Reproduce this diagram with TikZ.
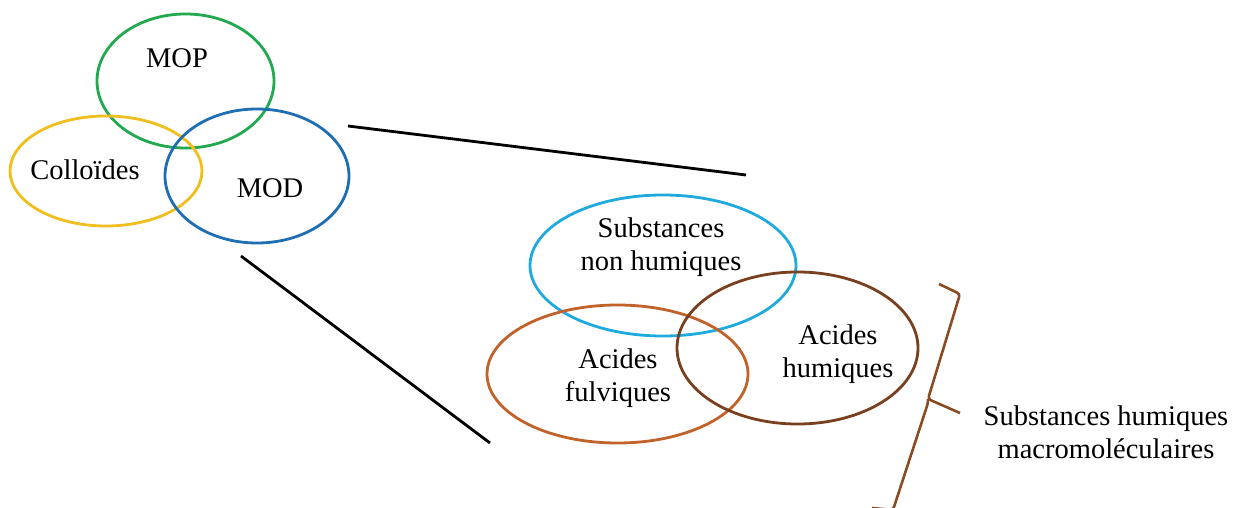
\documentclass[tikz,border=0pt]{standalone}
\usepackage{fontspec}
\setmainfont{Liberation Serif}
\usetikzlibrary{shapes.geometric}
\definecolor{cgreen}{RGB}{34,168,78}
\definecolor{cyellow}{RGB}{240,190,30}
\definecolor{cblue}{RGB}{30,110,180}
\definecolor{ccyan}{RGB}{30,170,220}
\definecolor{corange}{RGB}{192,98,42}
\definecolor{cbrown}{RGB}{120,64,30}
\definecolor{cbrace}{RGB}{138,74,34}
\begin{document}
\begin{tikzpicture}[x=1pt,y=-1pt,
  ell/.style={ellipse,draw,line width=2.8pt,inner sep=0pt},
  lbl/.style={font=\fontsize{28.5}{33}\selectfont,align=center,inner sep=0pt},
  zoomline/.style={line width=2.8pt,black}]
\useasboundingbox (0,0) rectangle (1234,508);
% top-left group
\node[ell,draw=cgreen,minimum width=177pt,minimum height=134pt] (mop) at (185.5,81) {};
\node[ell,draw=cyellow,minimum width=192pt,minimum height=110pt] (coll) at (106,171) {};
\node[ell,draw=cblue,minimum width=184pt,minimum height=134pt] (mod) at (257,176) {};
\node[lbl] (tmop) at (177,58) {MOP};
\node[lbl] (tcoll) at (85,170) {Colloïdes};
\node[lbl] (tmod) at (270,188) {MOD};
% zoom lines
\coordinate (l1a) at (348,126);
\coordinate (l1b) at (746,175);
\coordinate (l2a) at (241,256);
\coordinate (l2b) at (490,443);
\draw[zoomline] (l1a) -- (l1b);
\draw[zoomline] (l2a) -- (l2b);
% lower-right group
\node[ell,draw=ccyan,minimum width=266pt,minimum height=141pt] (snh) at (663,265.5) {};
\node[ell,draw=corange,minimum width=261pt,minimum height=138pt] (af) at (617.5,374) {};
\node[ell,draw=cbrown,minimum width=241pt,minimum height=152pt] (ah) at (797.5,348) {};
\node[lbl] (tsnh) at (661,247) {Substances\\non humiques};
\node[lbl] (taf) at (618,378) {Acides\\fulviques};
\node[lbl] (tah) at (838,354) {Acides\\humiques};
% brace
\coordinate (b1) at (939,284);
\coordinate (b2) at (960,294);
\coordinate (b3) at (928,399);
\coordinate (b4) at (960,413);
\coordinate (b5) at (928,403);
\coordinate (b6) at (893,510);
\coordinate (b7) at (872,508);
\draw[cbrace,line width=2.6pt,rounded corners=3pt] (b1) -- (b2) -- (b3) -- (b4);
\draw[cbrace,line width=2.6pt,rounded corners=3pt] (b3) -- (b5) -- (b6) -- (b7);
\node[lbl] (tshm) at (1106,432) {Substances humiques\\macromoléculaires};
\end{tikzpicture}
\end{document}
